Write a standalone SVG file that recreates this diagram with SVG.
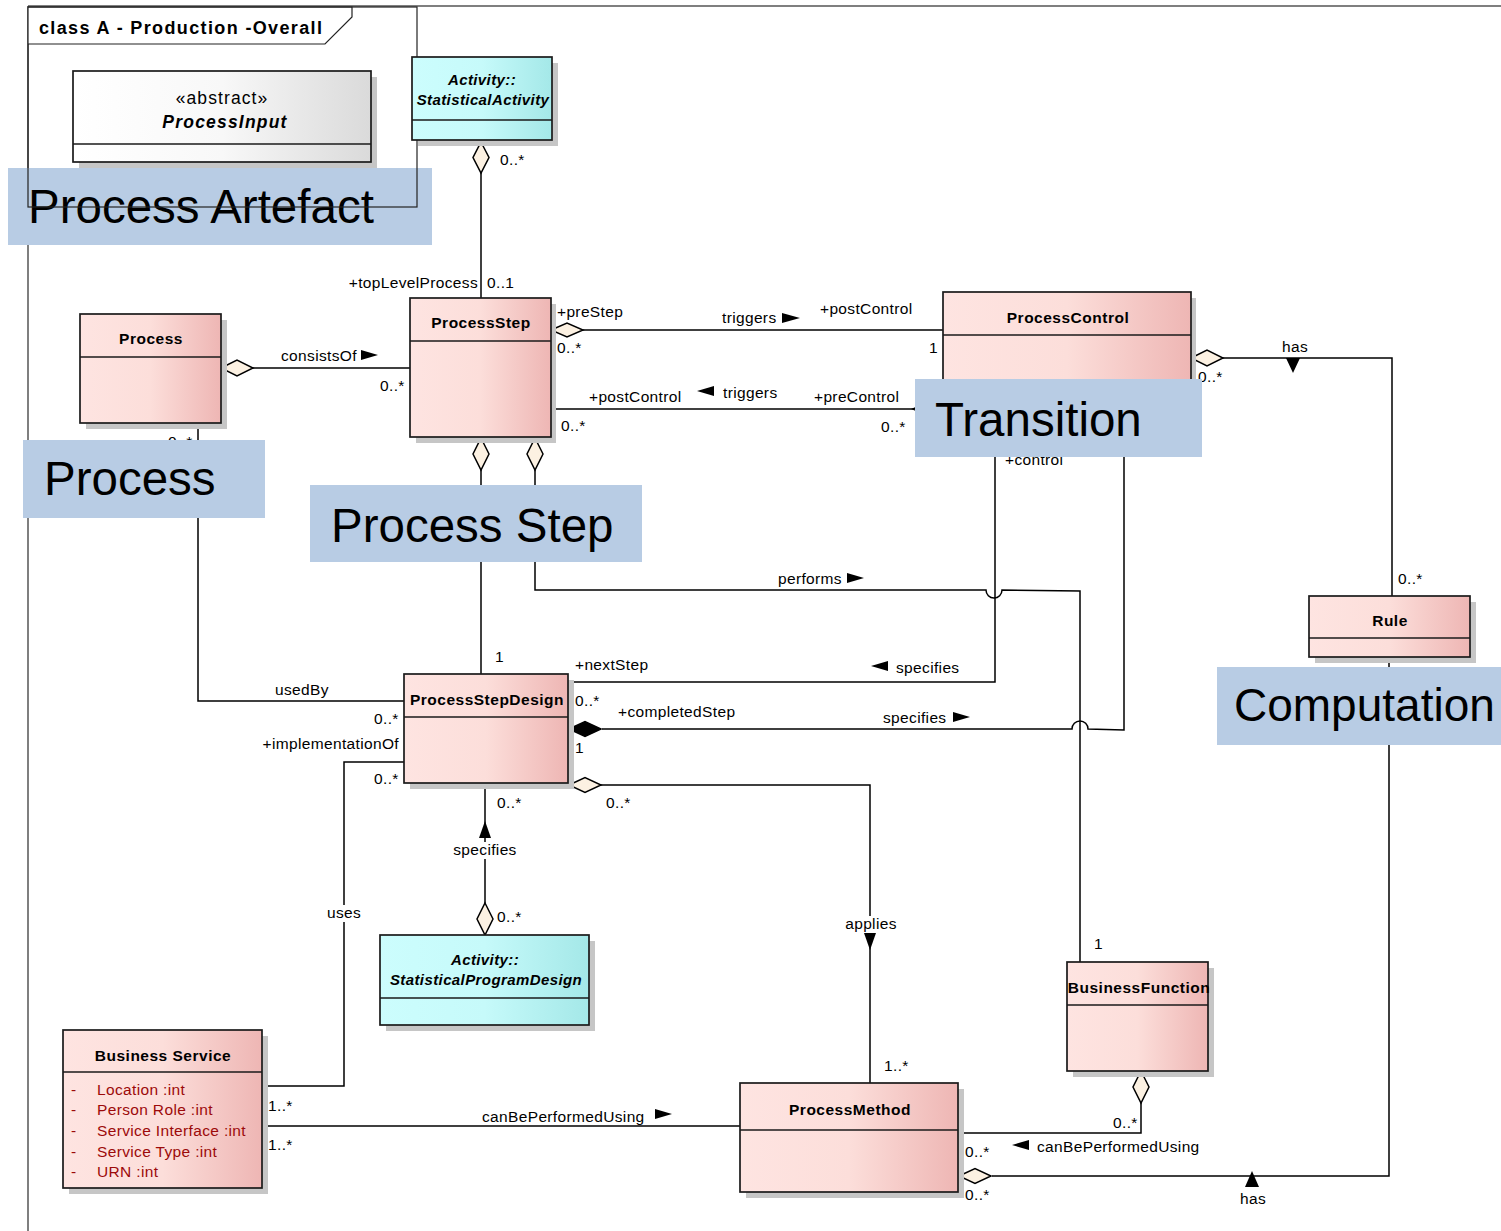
<svg xmlns="http://www.w3.org/2000/svg" width="1501" height="1231" viewBox="0 0 1501 1231">
<style>
text{font-family:"Liberation Sans",Arial,sans-serif;fill:#000}
.l{font-size:15.5px;letter-spacing:0.35px}
.r{text-anchor:end}
.m{text-anchor:middle}
.h{font-size:15.5px;font-weight:bold;letter-spacing:0.5px;text-anchor:middle}
.bi{font-size:15px;font-weight:bold;font-style:italic;letter-spacing:0.4px;text-anchor:middle}
.at{font-size:15.5px;letter-spacing:0.35px;fill:#9c0a0a}
.big{font-size:47.5px}
.box{stroke:#1a1a1a;stroke-width:1.7}
.sh{fill:#c6c6c6}
.dv{stroke:#1a1a1a;stroke-width:1.7}
.c{fill:none;stroke:#000;stroke-width:1.5}
.d{fill:#fcf1e2;stroke:#000;stroke-width:1.5}
.df{fill:#000;stroke:#000;stroke-width:1.5}
.a{fill:#000}
.lab{fill:#b8cce4}
.wb{fill:#fff}
</style>
<defs>
<linearGradient id="pk" x1="0" y1="0" x2="1" y2="0">
<stop offset="0" stop-color="#fee4e1"/><stop offset="0.5" stop-color="#fcdeda"/><stop offset="1" stop-color="#eeb6b4"/>
</linearGradient>
<linearGradient id="cy" x1="0" y1="0" x2="1" y2="0">
<stop offset="0" stop-color="#ccfdfd"/><stop offset="0.5" stop-color="#c6fafa"/><stop offset="1" stop-color="#a4e8e8"/>
</linearGradient>
<linearGradient id="gy" x1="0" y1="0" x2="1" y2="0">
<stop offset="0" stop-color="#ffffff"/><stop offset="0.5" stop-color="#f8f8f8"/><stop offset="1" stop-color="#dadada"/>
</linearGradient>
</defs>
<rect x="0" y="0" width="1501" height="1231" fill="#fff"/>

<g id="frame">
<path d="M28,6 H1501 M28,6 V1231" fill="none" stroke="#555" stroke-width="1.5"/>
<path d="M28,7 H352 V17 L325,44 H28" fill="#fff" stroke="#222" stroke-width="1.2"/>
<text x="39" y="34" style="font-size:18px;font-weight:bold" textLength="283" lengthAdjust="spacing">class A - Production -Overall</text>
</g>

<g id="label-process-artefact">
<rect class="lab" x="8" y="168" width="424" height="77"/>
<text class="big" x="28" y="223">Process Artefact</text>
</g>
<rect id="inner-frame" x="28" y="7" width="389" height="200" fill="none" stroke="#222" stroke-width="1.2"/>

<g id="connectors">
<path class="c" d="M481,173 V298"/>
<path class="c" d="M253,368 H410"/>
<path class="c" d="M583,330 H943"/>
<path class="c" d="M551,409 H913"/>
<path class="c" d="M1223,358 H1392 V596"/>
<path class="c" d="M481,470 V674"/>
<path class="c" d="M535,470 V590 H986 A8,8 0 0 0 1002,590 L1080,591 V962"/>
<path class="c" d="M568,682 H995 V390"/>
<path class="c" d="M602,729 H1072 A8,8 0 0 1 1088,729 L1124,730 V390"/>
<path class="c" d="M198,423 V701 H404"/>
<path class="c" d="M404,762 H344 V1086 H262"/>
<path class="c" d="M485,783 V903"/>
<path class="c" d="M601,785 H870 V1083"/>
<path class="c" d="M262,1126 H740"/>
<path class="c" d="M958,1133 H1141 V1103"/>
<path class="c" d="M1389,657 V1176 H992"/>
<!-- diamonds -->
<path class="d" d="M481,142 L489,157.5 L481,173 L473,157.5 Z"/>
<path class="d" d="M551,330 L567,323 L583,330 L567,337 Z"/>
<path class="d" d="M221,368 L237,360 L253,368 L237,376 Z"/>
<path class="d" d="M481,438 L489,454 L481,470 L473,454 Z"/>
<path class="d" d="M535,438 L543,454 L535,470 L527,454 Z"/>
<path class="d" d="M913,409 L929,402 L945,409 L929,416 Z"/>
<path class="d" d="M1191,358 L1207,350 L1223,358 L1207,366 Z"/>
<path class="df" d="M569,729 L585,721.5 L601,729 L585,736.5 Z"/>
<path class="d" d="M569,785 L585,777.5 L601,785 L585,792.5 Z"/>
<path class="d" d="M485,903 L493,919 L485,935 L477,919 Z"/>
<path class="d" d="M1141,1071 L1149,1087 L1141,1103 L1133,1087 Z"/>
<path class="d" d="M959,1176 L975,1168.5 L991,1176 L975,1183.5 Z"/>
<!-- direction arrows -->
<path class="a" d="M782,313 L800,318 L782,323 Z"/>
<path class="a" d="M714,386 L697,391 L714,396 Z"/>
<path class="a" d="M361,350 L378,355 L361,360 Z"/>
<path class="a" d="M1286,358 L1300,358 L1293,373 Z"/>
<path class="a" d="M847,573 L864,578 L847,583 Z"/>
<path class="a" d="M888,661 L871,666 L888,671 Z"/>
<path class="a" d="M953,712 L970,717 L953,722 Z"/>
<path class="a" d="M485,821 L491,838 L479,838 Z"/>
<path class="a" d="M864,933 L876,933 L870,950 Z"/>
<path class="a" d="M655,1109 L672,1114 L655,1119 Z"/>
<path class="a" d="M1029,1140 L1012,1145 L1029,1150 Z"/>
<path class="a" d="M1252,1171 L1259,1187 L1245,1187 Z"/>
<!-- label backgrounds on lines -->
<rect class="wb" x="326" y="905" width="36" height="17"/>
<rect class="wb" x="842" y="916" width="58" height="17"/>
<rect class="wb" x="451" y="842" width="68" height="17"/>
<!-- labels -->
<text class="l m" x="344" y="918">uses</text>
<text class="l m" x="871" y="929">applies</text>
<text class="l m" x="485" y="855">specifies</text>
<text class="l" x="500" y="165">0..*</text>
<text class="l r" x="478" y="288">+topLevelProcess</text>
<text class="l" x="487" y="288">0..1</text>
<text class="l" x="557" y="317">+preStep</text>
<text class="l" x="557" y="353">0..*</text>
<text class="l" x="722" y="323">triggers</text>
<text class="l" x="820" y="314">+postControl</text>
<text class="l" x="929" y="353">1</text>
<text class="l" x="589" y="402">+postControl</text>
<text class="l" x="723" y="398">triggers</text>
<text class="l" x="814" y="402">+preControl</text>
<text class="l" x="561" y="431">0..*</text>
<text class="l" x="881" y="432">0..*</text>
<text class="l" x="281" y="361">consistsOf</text>
<text class="l" x="380" y="391">0..*</text>
<text class="l" x="168" y="447">0..*</text>
<text class="l" x="1282" y="352">has</text>
<text class="l" x="1198" y="382">0..*</text>
<text class="l" x="1398" y="584">0..*</text>
<text class="l" x="1005" y="465">+control</text>
<text class="l" x="778" y="584">performs</text>
<text class="l" x="495" y="662">1</text>
<text class="l" x="575" y="670">+nextStep</text>
<text class="l" x="896" y="673">specifies</text>
<text class="l" x="575" y="706">0..*</text>
<text class="l" x="618" y="717">+completedStep</text>
<text class="l" x="883" y="723">specifies</text>
<text class="l" x="575" y="753">1</text>
<text class="l" x="275" y="695">usedBy</text>
<text class="l" x="374" y="724">0..*</text>
<text class="l r" x="399" y="749">+implementationOf</text>
<text class="l" x="374" y="784">0..*</text>
<text class="l" x="497" y="808">0..*</text>
<text class="l" x="606" y="808">0..*</text>
<text class="l" x="497" y="922">0..*</text>
<text class="l" x="884" y="1071">1..*</text>
<text class="l" x="1094" y="949">1</text>
<text class="l" x="268" y="1111">1..*</text>
<text class="l" x="268" y="1150">1..*</text>
<text class="l" x="482" y="1122">canBePerformedUsing</text>
<text class="l" x="1113" y="1128">0..*</text>
<text class="l" x="1037" y="1152">canBePerformedUsing</text>
<text class="l" x="965" y="1157">0..*</text>
<text class="l" x="965" y="1200">0..*</text>
<text class="l" x="1240" y="1204">has</text>
</g>

<g id="ProcessInput">
<rect class="sh" x="79" y="77" width="298" height="91"/>
<rect class="box" x="73" y="71" width="298" height="91" fill="url(#gy)"/>
<line class="dv" x1="73" y1="144" x2="371" y2="144"/>
<text class="m" x="222" y="104" style="font-size:17.5px;letter-spacing:1.1px">«abstract»</text>
<text class="m" x="225" y="128" style="font-size:17.5px;font-weight:bold;font-style:italic;letter-spacing:1.2px">ProcessInput</text>
</g>

<g id="StatisticalActivity">
<rect class="sh" x="418" y="63" width="140" height="83"/>
<rect class="box" x="412" y="57" width="140" height="83" fill="url(#cy)"/>
<line class="dv" x1="412" y1="120" x2="552" y2="120"/>
<text class="bi" x="482" y="85">Activity::</text>
<text class="bi" x="483" y="105">StatisticalActivity</text>
</g>

<g id="ProcessStep">
<rect class="sh" x="416" y="304" width="140" height="139"/>
<rect class="box" x="410" y="298" width="141" height="139" fill="url(#pk)"/>
<line class="dv" x1="410" y1="341" x2="551" y2="341"/>
<text class="h" x="481" y="328">ProcessStep</text>
</g>

<g id="Process">
<rect class="sh" x="86" y="320" width="141" height="109"/>
<rect class="box" x="80" y="314" width="141" height="109" fill="url(#pk)"/>
<line class="dv" x1="80" y1="357" x2="221" y2="357"/>
<text class="h" x="151" y="344">Process</text>
</g>

<g id="ProcessControl">
<rect class="sh" x="949" y="298" width="247" height="108"/>
<rect class="box" x="943" y="292" width="248" height="108" fill="url(#pk)"/>
<line class="dv" x1="943" y1="335" x2="1191" y2="335"/>
<text class="h" x="1068" y="323">ProcessControl</text>
</g>

<g id="Rule">
<rect class="sh" x="1315" y="602" width="161" height="61"/>
<rect class="box" x="1309" y="596" width="161" height="61" fill="url(#pk)"/>
<line class="dv" x1="1309" y1="638" x2="1470" y2="638"/>
<text class="h" x="1390" y="626">Rule</text>
</g>

<g id="ProcessStepDesign">
<rect class="sh" x="410" y="680" width="164" height="109"/>
<rect class="box" x="404" y="674" width="164" height="109" fill="url(#pk)"/>
<line class="dv" x1="404" y1="717" x2="568" y2="717"/>
<text class="h" x="487" y="705">ProcessStepDesign</text>
</g>

<g id="StatisticalProgramDesign">
<rect class="sh" x="386" y="941" width="209" height="90"/>
<rect class="box" x="380" y="935" width="209" height="90" fill="url(#cy)"/>
<line class="dv" x1="380" y1="998" x2="589" y2="998"/>
<text class="bi" x="485" y="965">Activity::</text>
<text class="bi" x="486" y="985">StatisticalProgramDesign</text>
</g>

<g id="BusinessService">
<rect class="sh" x="69" y="1036" width="199" height="158"/>
<rect class="box" x="63" y="1030" width="199" height="158" fill="url(#pk)"/>
<line class="dv" x1="63" y1="1072" x2="262" y2="1072"/>
<text class="h" x="163" y="1061">Business Service</text>
<text class="at" x="71" y="1095">-</text><text class="at" x="97" y="1095">Location  :int</text>
<text class="at" x="71" y="1115">-</text><text class="at" x="97" y="1115">Person Role  :int</text>
<text class="at" x="71" y="1136">-</text><text class="at" x="97" y="1136">Service Interface  :int</text>
<text class="at" x="71" y="1157">-</text><text class="at" x="97" y="1157">Service Type  :int</text>
<text class="at" x="71" y="1177">-</text><text class="at" x="97" y="1177">URN  :int</text>
</g>

<g id="ProcessMethod">
<rect class="sh" x="746" y="1089" width="218" height="109"/>
<rect class="box" x="740" y="1083" width="218" height="109" fill="url(#pk)"/>
<line class="dv" x1="740" y1="1130" x2="958" y2="1130"/>
<text class="h" x="850" y="1115">ProcessMethod</text>
</g>

<g id="BusinessFunction">
<rect class="sh" x="1073" y="968" width="141" height="109"/>
<rect class="box" x="1067" y="962" width="141" height="109" fill="url(#pk)"/>
<line class="dv" x1="1067" y1="1005" x2="1208" y2="1005"/>
<text class="h" x="1139" y="993">BusinessFunction</text>
</g>

<g id="label-process">
<rect class="lab" x="23" y="440" width="242" height="78"/>
<text class="big" x="44" y="495">Process</text>
</g>
<g id="label-process-step">
<rect class="lab" x="310" y="485" width="332" height="77"/>
<text class="big" x="331" y="542">Process Step</text>
</g>
<g id="label-transition">
<rect class="lab" x="915" y="379" width="287" height="78"/>
<text class="big" x="935" y="436">Transition</text>
</g>
<g id="label-computation">
<rect class="lab" x="1217" y="667" width="284" height="78"/>
<text class="big" x="1234" y="721" style="font-size:46px">Computation</text>
</g>
</svg>
